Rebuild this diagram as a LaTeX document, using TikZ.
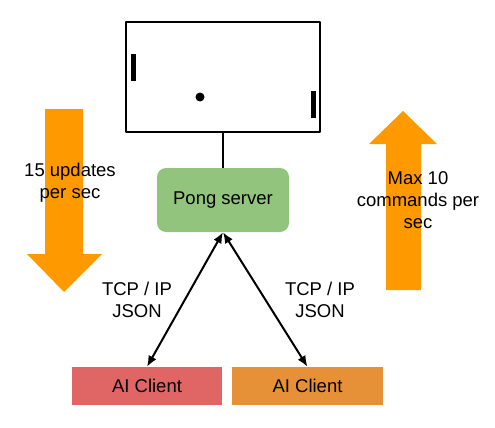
\documentclass[tikz,border=0pt]{standalone}
\usepackage{fontspec}
\setmainfont{Liberation Sans}
\usetikzlibrary{arrows.meta,positioning}
\definecolor{srvgreen}{HTML}{93C47D}
\definecolor{clired}{HTML}{E06666}
\definecolor{cliorange}{HTML}{E69138}
\definecolor{bigorange}{HTML}{FF9900}
\begin{document}
\begin{tikzpicture}[x=1pt, y=-1pt, line join=round,
        lbl/.style={font=\fontsize{18.5}{22}\selectfont, align=center, inner sep=0pt},
        box/.style={lbl, minimum height=38pt},
        link/.style={line width=2pt, {Latex[length=11pt,width=9pt]}-{Latex[length=11pt,width=9pt]}}]
        \useasboundingbox (0,0) rectangle (495,428);
        % the two rate arrows
        \fill[bigorange] (45,109) -- (83,109) -- (83,254) -- (102,254) -- (64,292) -- (27,254) -- (45,254) -- cycle;
        \fill[bigorange] (386,290) -- (421,290) -- (421,144) -- (437,144) -- (403,111) -- (369,144) -- (386,144) -- cycle;
        % game screen
        \node[draw, line width=2pt, minimum width=194pt, minimum height=110pt, inner sep=0pt] (screen) at (223,77) {};
        \fill (131,54) rectangle (136,81);
        \fill (311,91) rectangle (316,118);
        \fill (200,97) circle (4.5pt);
        \node[lbl, fill=srvgreen, rounded corners=9pt, minimum width=132pt, minimum height=64pt] (server) at (223,200) {Pong server};
        \node[box, fill=clired, minimum width=150pt] (cli1) at (147,386) {AI Client};
        \node[box, fill=cliorange, minimum width=151pt] (cli2) at (307.5,386) {AI Client};
        \draw[line width=2pt] (screen.south) -- (server.north);
        \draw[link] (server.south) -- (cli1.north);
        \draw[link] (server.south) -- (cli2.north);
        \node[lbl] (tcp1) at (137,300) {TCP / IP\\JSON};
        \node[lbl] (tcp2) at (320,300) {TCP / IP\\JSON};
        \node[lbl] (rate1) at (70,183) {15 updates\\per sec};
        \node[lbl] (rate2) at (418,200) {Max 10\\commands per\\sec};
\end{tikzpicture}
\end{document}
